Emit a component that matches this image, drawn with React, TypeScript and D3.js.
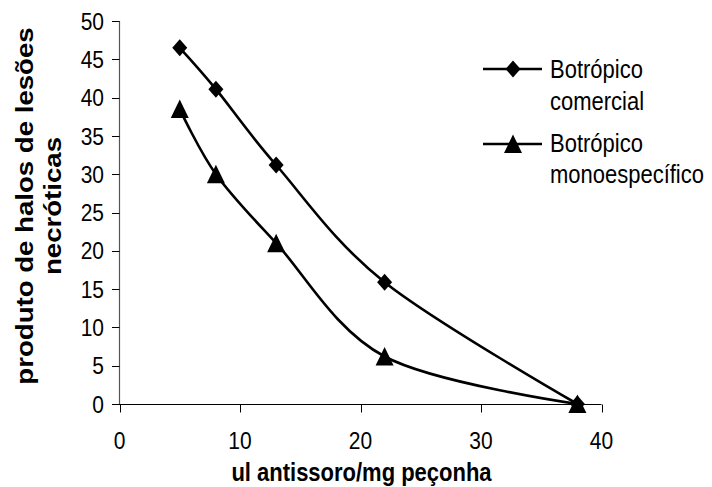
import React from "react";
import * as d3 from "d3";

const xValues = [5, 8, 13, 22, 38];
const comercial = [46.5, 41.1, 31.2, 15.9, 0];
const monoespecifico = [38.5, 30, 21, 6.2, 0];
const xTicks = [0, 10, 20, 30, 40];
const yTicks = [0, 5, 10, 15, 20, 25, 30, 35, 40, 45, 50];
const seriesNames = ["Botrópico|comercial", "Botrópico|monoespecífico"];
const xTitle = "ul antissoro/mg peçonha";
const yTitleLines = ["produto de halos de lesões", "necróticas"];

const FONT = "'Liberation Sans', Arial, sans-serif";
const SY = 1.15;

export default function App() {
  const W = 712, H = 487;
  const x = d3.scaleLinear().domain([0, 40]).range([119.5, 601.5]);
  const y = d3.scaleLinear().domain([0, 50]).range([404, 21]);
  const line = d3
    .line<[number, number]>()
    .x((d) => x(d[0]))
    .y((d) => y(d[1]))
    .curve(d3.curveCatmullRom.alpha(0));
  const s1 = xValues.map((v, i) => [v, comercial[i]] as [number, number]);
  const s2 = xValues.map((v, i) => [v, monoespecifico[i]] as [number, number]);

  const diamond = (cx: number, cy: number) =>
    `M${cx},${cy - 8.5}L${cx + 7.5},${cy}L${cx},${cy + 8.5}L${cx - 7.5},${cy}Z`;
  const triangle = (cx: number, cy: number) =>
    `M${cx},${cy - 9.5}L${cx + 9},${cy + 9}L${cx - 9},${cy + 9}Z`;

  const txt = (
    key: string,
    tx: number,
    ty: number,
    s: string,
    size: number,
    anchor: string,
    weight: string | number = "normal"
  ) => (
    <text
      key={key}
      transform={`translate(${tx},${ty}) scale(1,${SY})`}
      fontSize={size}
      fontFamily={FONT}
      textAnchor={anchor}
      fontWeight={weight}
      fill="#000"
    >
      {s}
    </text>
  );

  return (
    <svg
      width={W}
      height={H}
      style={{ position: "absolute", left: 0, top: 0, background: "#fff" }}
    >
      <rect width={W} height={H} fill="#fff" />
      {/* y axis */}
      <line x1={119.5} x2={119.5} y1={y(50)} y2={y(0)} stroke="#555" strokeWidth={1.2} />
      {yTicks.map((t) => (
        <line key={"yt" + t} x1={112} x2={119.5} y1={Math.round(y(t)) + 0.5} y2={Math.round(y(t)) + 0.5} stroke="#000" />
      ))}
      {yTicks.map((t) =>
        txt("yl" + t, 104, y(t) + 8.6, String(t), 21, "end")
      )}
      {/* x axis */}
      <line x1={112} x2={x(40)} y1={404.5} y2={404.5} stroke="#000" strokeWidth={1.2} />
      {xTicks.map((t) => (
        <line key={"xt" + t} x1={Math.round(x(t)) + 0.5} x2={Math.round(x(t)) + 0.5} y1={404.5} y2={412.5} stroke="#000" />
      ))}
      {xTicks.map((t) => txt("xl" + t, x(t), 449, String(t), 21, "middle"))}
      {/* titles */}
      {txt("xtitle", 361.5, 481, xTitle, 22, "middle", "bold")}
      <g transform="translate(32.5,206) rotate(-90)">
        <text
          transform={`scale(${SY},1)`}
          fontSize={24}
          fontFamily={FONT}
          fontWeight="bold"
          textAnchor="middle"
        >
          {yTitleLines[0]}
        </text>
      </g>
      <g transform="translate(61,206) rotate(-90)">
        <text
          transform={`scale(${SY},1)`}
          fontSize={24}
          fontFamily={FONT}
          fontWeight="bold"
          textAnchor="middle"
        >
          {yTitleLines[1]}
        </text>
      </g>
      {/* series */}
      <path d={line(s1) || ""} fill="none" stroke="#000" strokeWidth={2.6} />
      <path d={line(s2) || ""} fill="none" stroke="#000" strokeWidth={2.6} />
      {s1.map((d, i) => (
        <path key={"d" + i} d={diamond(x(d[0]), y(d[1]))} fill="#000" />
      ))}
      {s2.map((d, i) => (
        <path key={"t" + i} d={triangle(x(d[0]), y(d[1]))} fill="#000" />
      ))}
      {/* legend */}
      <line x1={483} x2={542} y1={69} y2={69} stroke="#000" strokeWidth={2.6} />
      <path d={diamond(513, 69)} fill="#000" />
      {txt("l1a", 550, 78, seriesNames[0].split("|")[0], 22, "start")}
      {txt("l1b", 550, 110, seriesNames[0].split("|")[1], 22, "start")}
      <line x1={483} x2={542} y1={144} y2={144} stroke="#000" strokeWidth={2.6} />
      <path d={triangle(513, 144)} fill="#000" />
      {txt("l2a", 550, 152, seriesNames[1].split("|")[0], 22, "start")}
      {txt("l2b", 550, 183, seriesNames[1].split("|")[1], 22, "start")}
    </svg>
  );
}
